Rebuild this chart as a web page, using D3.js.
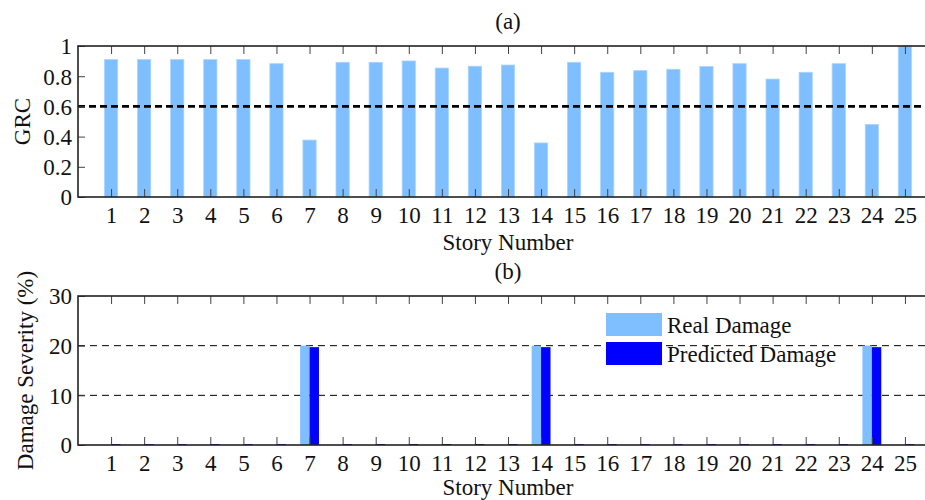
<!DOCTYPE html>
<html>
<head>
<meta charset="utf-8">
<script src="https://cdn.jsdelivr.net/npm/d3@7"></script>
<style>
  html, body { margin: 0; padding: 0; background: #fff; }
  svg { display: block; }
</style>
</head>
<body>
<svg id="chart" width="925" height="500"></svg>
<script>
// Story numbers along the x axis
const stories = [1, 2, 3, 4, 5, 6, 7, 8, 9, 10, 11, 12, 13, 14, 15, 16, 17, 18, 19, 20, 21, 22, 23, 24, 25];

// (a) GRC value per story
const grc = [0.91, 0.91, 0.91, 0.91, 0.91, 0.883, 0.377, 0.892, 0.892, 0.901,
             0.854, 0.866, 0.874, 0.358, 0.892, 0.826, 0.837, 0.846, 0.864, 0.883,
             0.781, 0.826, 0.883, 0.48, 1.0];
const grcThreshold = 0.6;
const grcTicks = [0, 0.2, 0.4, 0.6, 0.8, 1];

// (b) damage severity (%) per story
const realDamage = [0, 0, 0, 0, 0, 0, 20, 0, 0, 0, 0, 0, 0, 20, 0, 0, 0, 0, 0, 0, 0, 0, 0, 20, 0];
const predictedDamage = [0.2, 0.2, 0.2, 0.2, 0.2, 0.2, 19.7, 0.2, 0.2, 0.2, 0.2, 0.2, 0.2, 19.7,
                         0.2, 0.2, 0.2, 0.2, 0.2, 0.2, 0.2, 0.2, 0.2, 19.7, 0.2];
const damageTicks = [0, 10, 20, 30];
const damageGrid = [10, 20];
const legendLabels = ["Real Damage", "Predicted Damage"];

const lightBlue = "#80bfff";
const darkBlue = "#0000ff";
const fontSize = 23;
const serif = "Liberation Serif";

const svg = d3.select("#chart").attr("font-family", serif);
svg.append("rect").attr("width", 925).attr("height", 500).attr("fill", "#fff");

// shared horizontal scale; the axes box runs past the right edge of the page
const x = d3.scaleLinear().domain([0, 26]).range([78, 938]);
const step = x(1) - x(0);

function styleText(sel) {
  sel.attr("font-family", serif)
    .attr("font-size", fontSize).attr("fill", "#111");
}

function frame(g, y, top, bottom, yTickValues, yFormat) {
  // bottom axis with inward ticks
  const bx = g.append("g").attr("transform", `translate(0,${bottom})`)
    .call(d3.axisBottom(x).tickValues(stories).tickSize(-8).tickFormat(d3.format("d")));
  bx.attr("font-family", serif);
  bx.select(".domain").remove();
  bx.selectAll("line").attr("stroke", "#444");
  bx.selectAll("text").attr("y", 26).attr("dy", null).call(styleText);

  // top axis: ticks only
  const tx = g.append("g").attr("transform", `translate(0,${top})`)
    .call(d3.axisTop(x).tickValues(stories).tickSize(-8).tickFormat(""));
  tx.select(".domain").remove();
  tx.selectAll("line").attr("stroke", "#444");

  // left axis
  const ly = g.append("g").attr("transform", `translate(${x(0)},0)`)
    .call(d3.axisLeft(y).tickValues(yTickValues).tickSize(-7).tickPadding(6).tickFormat(yFormat));
  ly.attr("font-family", serif);
  ly.select(".domain").remove();
  ly.selectAll("line").attr("stroke", "#444");
  ly.selectAll("text").attr("dy", "0.34em").call(styleText);

  // box
  g.append("rect")
    .attr("x", x(0)).attr("y", top)
    .attr("width", x(26) - x(0)).attr("height", bottom - top)
    .attr("fill", "none").attr("stroke", "#222").attr("stroke-width", 1.6);
}

function label(g, text, xPos, yPos, rotate) {
  const t = g.append("text")
    .attr("text-anchor", "middle")
    .attr("transform", rotate ? `translate(${xPos},${yPos}) rotate(-90)` : `translate(${xPos},${yPos})`)
    .text(text);
  styleText(t);
  return t;
}

// ---------- (a) GRC ----------
const topA = 46, bottomA = 197;
const yA = d3.scaleLinear().domain([0, 1]).range([bottomA, topA]);
const gA = svg.append("g");

gA.selectAll("rect.bar")
  .data(stories)
  .join("rect")
  .attr("class", "bar")
  .attr("x", (d) => x(d) - step * 0.2)
  .attr("width", step * 0.4)
  .attr("y", (d, i) => yA(grc[i]))
  .attr("height", (d, i) => yA(0) - yA(grc[i]))
  .attr("fill", lightBlue)
  .attr("stroke", "#a9d4ff")
  .attr("stroke-width", 0.8);

gA.append("line")
  .attr("x1", x(0)).attr("x2", x(26))
  .attr("y1", yA(grcThreshold)).attr("y2", yA(grcThreshold))
  .attr("stroke", "#000").attr("stroke-width", 2.6)
  .attr("stroke-dasharray", "7,4");

frame(gA, yA, topA, bottomA, grcTicks, d3.format("~g"));

label(gA, "(a)", 508, 29);
label(gA, "Story Number", 508, 250);
label(gA, "GRC", 30, (topA + bottomA) / 2, true);

// ---------- (b) Damage severity ----------
const topB = 296, bottomB = 445;
const yB = d3.scaleLinear().domain([0, 30]).range([bottomB, topB]);
const gB = svg.append("g");

gB.selectAll("line.grid")
  .data(damageGrid)
  .join("line")
  .attr("class", "grid")
  .attr("x1", x(0)).attr("x2", x(26))
  .attr("y1", (d) => yB(d)).attr("y2", (d) => yB(d))
  .attr("stroke", "#000").attr("stroke-width", 1)
  .attr("stroke-dasharray", "7,5");

const barW = step * 0.285;
gB.selectAll("rect.real")
  .data(stories)
  .join("rect")
  .attr("class", "real")
  .attr("x", (d) => x(d) - barW)
  .attr("width", barW)
  .attr("y", (d, i) => yB(realDamage[i]))
  .attr("height", (d, i) => yB(0) - yB(realDamage[i]))
  .attr("fill", lightBlue);

gB.selectAll("rect.pred")
  .data(stories)
  .join("rect")
  .attr("class", "pred")
  .attr("x", (d) => x(d))
  .attr("width", barW)
  .attr("y", (d, i) => yB(predictedDamage[i]))
  .attr("height", (d, i) => yB(0) - yB(predictedDamage[i]))
  .attr("fill", darkBlue);

frame(gB, yB, topB, bottomB, damageTicks, d3.format("d"));

label(gB, "(b)", 508, 279);
label(gB, "Story Number", 508, 495);
label(gB, "Damage Severity (%)", 33, (topB + bottomB) / 2, true);

// legend
const legend = gB.append("g").attr("transform", "translate(606,313)");
const legendColors = [lightBlue, darkBlue];
legendLabels.forEach((text, i) => {
  const row = legend.append("g").attr("transform", `translate(0,${i * 29})`);
  row.append("rect").attr("width", 56).attr("height", 23).attr("fill", legendColors[i]);
  const t = row.append("text").attr("x", 61).attr("y", 20).text(text);
  styleText(t);
});
</script>
</body>
</html>
